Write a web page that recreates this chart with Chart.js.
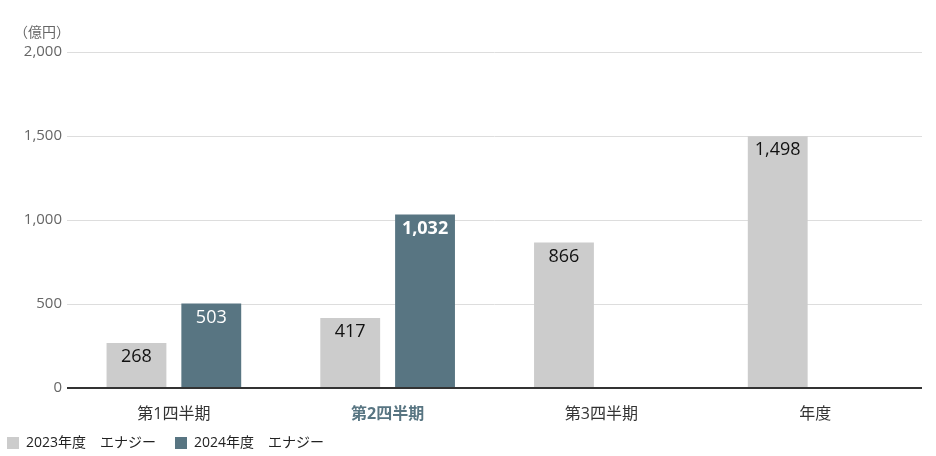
<!DOCTYPE html>
<html lang="ja">
<head>
<meta charset="utf-8">
<title>エナジー</title>
<script src="https://cdn.jsdelivr.net/npm/chart.js@4.4.1/dist/chart.umd.min.js"></script>
<style>
  html, body { margin: 0; padding: 0; background: #fff; }
  #wrap { position: relative; width: 936px; height: 456px; }
</style>
</head>
<body>
<div id="wrap"><canvas id="energyChart"></canvas></div>
<script>
// データ
const categories = ['第1四半期', '第2四半期', '第3四半期', '年度'];
const fy2023 = [268, 417, 866, 1498];
const fy2024 = [503, 1032, null, null];
const seriesNames = ['2023年度　エナジー', '2024年度　エナジー'];
const yTicks = [0, 500, 1000, 1500, 2000];
const unitLabel = '（億円）';
const highlightIndex = 1; // 第2四半期を強調

const FONT = "'Open Sans', 'Noto Sans CJK JP', sans-serif";
const GRAY = '#cccccc';
const TEAL = '#587582';

const fmt = v => Number(v).toLocaleString('en-US');

// バーの上端内側に数値を描く
const valueLabels = {
  id: 'valueLabels',
  afterDatasetsDraw(chart) {
    const ctx = chart.ctx;
    ctx.save();
    ctx.textAlign = 'center';
    ctx.textBaseline = 'middle';
    chart.data.datasets.forEach((ds, di) => {
      const meta = chart.getDatasetMeta(di);
      meta.data.forEach((bar, i) => {
        const v = ds.data[i];
        if (v === null || v === undefined) return;
        const bold = di === 1 && i === highlightIndex;
        ctx.font = (bold ? 'bold ' : '') + '18px ' + FONT;
        ctx.fillStyle = di === 0 ? '#111111' : '#ffffff';
        ctx.fillText(fmt(v), bar.x, bar.y + 14);
      });
    });
    ctx.restore();
  }
};

// 単位ラベル + 凡例を少し上へ
const unitTitle = {
  id: 'unitTitle',
  afterLayout(chart) {
    chart.legend.top -= 6;
    chart.legend.bottom -= 6;
  },
  afterDraw(chart) {
    const y = chart.scales.y;
    const ctx = chart.ctx;
    ctx.save();
    ctx.font = '14px ' + FONT;
    ctx.fillStyle = '#666666';
    ctx.textAlign = 'right';
    ctx.textBaseline = 'middle';
    ctx.fillText(unitLabel, y.right + 3, y.top - 19);
    ctx.restore();
  }
};

const ctx = document.getElementById('energyChart').getContext('2d');
const energyChart = new Chart(ctx, {
  type: 'bar',
  data: {
    labels: categories,
    datasets: [{
      label: seriesNames[0],
      data: fy2023,
      backgroundColor: GRAY
    }, {
      label: seriesNames[1],
      data: fy2024,
      backgroundColor: TEAL
    }]
  },
  options: {
    responsive: true,
    maintainAspectRatio: false,
    animation: false,
    barPercentage: 0.8,
    categoryPercentage: 0.7,
    layout: {
      padding: { top: 52, right: 14, left: -12, bottom: 0 }
    },
    scales: {
      x: {
        grid: { display: false },
        border: { display: false },
        afterFit: axis => { axis.height = 35; },
        ticks: {
          padding: 9,
          color: c => c.index === highlightIndex ? TEAL : '#333333',
          font: c => ({
            family: FONT,
            size: 16,
            weight: c.index === highlightIndex ? 'bold' : 'normal'
          })
        }
      },
      y: {
        min: 0,
        max: 2000,
        afterBuildTicks: axis => {
          axis.ticks = yTicks.map(v => ({ value: v }));
        },
        afterFit: axis => { axis.width = 79; },
        border: { display: false },
        grid: {
          drawTicks: false,
          color: c => c.tick && c.tick.value === 0 ? '#333333' : '#dddddd',
          lineWidth: c => c.tick && c.tick.value === 0 ? 2 : 1
        },
        ticks: {
          padding: 5,
          color: '#666666',
          font: { family: FONT, size: 15 },
          callback: v => fmt(v)
        }
      }
    },
    plugins: {
      legend: {
        display: true,
        position: 'bottom',
        align: 'start',
        maxHeight: 33,
        labels: {
          boxWidth: 12,
          boxHeight: 12,
          padding: 19,
          color: '#222222',
          font: { family: FONT, size: 14 }
        }
      },
      tooltip: { enabled: false }
    }
  },
  plugins: [valueLabels, unitTitle]
});
</script>
</body>
</html>
